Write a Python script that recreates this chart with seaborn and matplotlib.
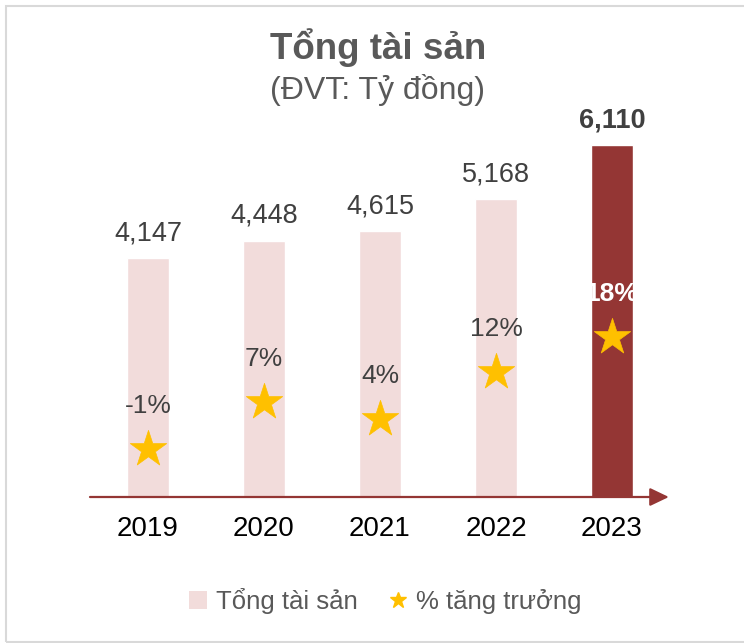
import matplotlib
matplotlib.use("Agg")
import matplotlib.pyplot as plt
from matplotlib.patches import Patch, Rectangle
from matplotlib.lines import Line2D
import seaborn as sns
import numpy as np
import pandas as pd

years = ["2019", "2020", "2021", "2022", "2023"]
assets = [4147, 4448, 4615, 5168, 6110]
growth = [-1, 7, 4, 12, 18]
title = "Tổng tài sản"
subtitle = "(ĐVT: Tỷ đồng)"
legend_bar = "Tổng tài sản"
legend_star = "% tăng trưởng"

sns.set_theme(style="white")
plt.rcParams["font.family"] = ["Liberation Sans", "DejaVu Sans"]

LIGHT = "#F2DCDB"
DARK = "#943634"
GOLD = "#FFC000"
TXT = "#404040"

df = pd.DataFrame({"year": years, "assets": assets, "growth": growth})
palette = [LIGHT] * (len(years) - 1) + [DARK]

fig = plt.figure(figsize=(7.44, 6.43), dpi=100)
ax = fig.add_axes([90 / 744, 1 - 497 / 643, 580 / 744, 403 / 643])

sns.barplot(data=df, x="year", y="assets", hue="year", palette=palette,
            legend=False, width=0.355, saturation=1, ax=ax)
ax.set_xlim(-0.5, 4.5)
ax.set_ylim(0, 7000)
ax.set_xlabel("")
ax.set_ylabel("")
ax.set_yticks([])
ax.tick_params(axis="x", length=0, pad=14, labelsize=20, labelcolor="black")
for s in ax.spines.values():
    s.set_visible(False)

for i, v in enumerate(assets):
    last = i == len(assets) - 1
    ax.annotate(f"{v:,}", (i, v), xytext=(0, 13), textcoords="offset points",
                ha="center", va="baseline", fontsize=19.5, color=TXT,
                fontweight="bold" if last else "normal")

# arrow axis
ax.annotate("", xy=(4.49, 0), xytext=(-0.5, 0), xycoords="data",
            arrowprops=dict(arrowstyle="-|>,head_length=1.15,head_width=0.55",
                            mutation_scale=10, color=DARK, lw=1.6,
                            shrinkA=0, shrinkB=0), annotation_clip=False)

ax2 = ax.twinx()
sns.scatterplot(x=np.arange(len(years)), y=df["growth"], marker="*", s=760,
                color=GOLD, edgecolor=GOLD, linewidth=0.5, ax=ax2, zorder=5)
ax2.set_ylim(-9.15, 59.15)
ax2.set_yticks([])
ax2.set_ylabel("")
for s in ax2.spines.values():
    s.set_visible(False)
for i, g in enumerate(growth):
    last = i == len(growth) - 1
    ax2.annotate(f"{g}%", (i, g), xytext=(0, 26), textcoords="offset points",
                 ha="center", va="baseline", fontsize=19,
                 color="white" if last else TXT,
                 fontweight="bold" if last else "normal")

fig.text(378 / 744, 1 - 48 / 643, title, ha="center", va="center",
         fontsize=26.5, fontweight="bold", color="#595959")
fig.text(378 / 744, 1 - 90 / 643, subtitle, ha="center", va="center",
         fontsize=23, color="#595959")

handles = [Patch(facecolor=LIGHT, edgecolor="none"),
           Line2D([], [], marker="*", linestyle="none", color=GOLD, markersize=12)]
fig.legend(handles, [legend_bar, legend_star], loc="center", ncol=2,
           bbox_to_anchor=(385 / 744, 1 - 601 / 643), frameon=False,
           fontsize=18.5, labelcolor="#595959", handlelength=0.7,
           handleheight=0.7, handletextpad=0.35, columnspacing=1.2)

fig.patches.append(Rectangle((6 / 744, 1 / 643), 1.5, 1 - 7 / 643,
                             transform=fig.transFigure, fill=False,
                             edgecolor="#D9D9D9", lw=1.5, clip_on=False))

fig.savefig("out.png", dpi=100, facecolor="white")
